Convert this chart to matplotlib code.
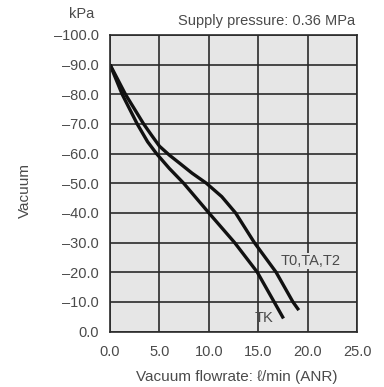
import matplotlib.pyplot as plt

plt.rcParams['font.family'] = ['Liberation Sans', 'DejaVu Sans']

# vacuum flow rate (l/min) and vacuum (kPa)
t0_flow = [0.0, 1.56, 3.4, 4.2, 5.0, 6.0, 7.1, 8.3, 9.75, 11.3, 12.7, 14.6, 16.8, 18.5, 19.1]
t0_vac = [-90, -80, -70, -66.2, -62.5, -59.5, -56.6, -53.4, -50, -45.5, -40, -30, -20, -10, -7.2]

tk_flow = [0.0, 1.23, 2.75, 3.8, 4.7, 6.0, 7.45, 10.0, 12.6, 14.9, 16.6, 17.55]
tk_vac = [-90, -80, -70, -64, -60, -55, -50, -40, -30, -20, -10, -4.4]

x_ticks = [0, 5, 10, 15, 20, 25]
x_labels = ['0.0', '5.0', '10.0', '15.0', '20.0', '25.0']
y_ticks = [0, -10, -20, -30, -40, -50, -60, -70, -80, -90, -100]
y_labels = ['0.0'] + ['\u2013%d.0' % v for v in range(10, 101, 10)]

txt = '#4a4a4a'

fig = plt.figure(figsize=(3.84, 3.87), dpi=100)
ax = fig.add_axes([0.2865, 0.1434, 0.6435, 0.7662])
ax.set_facecolor('#e6e6e6')

ax.plot(t0_flow, t0_vac, color='#111111', lw=2.4, solid_joinstyle='round', solid_capstyle='butt')
ax.plot(tk_flow, tk_vac, color='#111111', lw=2.4, solid_joinstyle='round', solid_capstyle='butt')

ax.set_xlim(0, 25)
ax.set_ylim(0, -100)
ax.set_xticks(x_ticks)
ax.set_xticklabels(x_labels)
ax.set_yticks(y_ticks)
ax.set_yticklabels(y_labels)
ax.tick_params(length=0, labelsize=10.5, labelcolor=txt)
ax.tick_params(axis='x', pad=10)
ax.tick_params(axis='y', pad=8)
ax.grid(True, color='#2a2a2a', lw=1.2)
ax.set_axisbelow(True)
for s in ax.spines.values():
    s.set_color('#2a2a2a')
    s.set_linewidth(1.2)

ax.text(20.25, -23.7, 'T0,TA,T2', fontsize=10.5, color=txt, ha='center', va='center',
        bbox=dict(facecolor='#e6e6e6', edgecolor='none', pad=0.5))
ax.text(15.6, -4.5, 'TK', fontsize=10.5, color=txt, ha='center', va='center')

fig.text(82 / 384, 1 - 14 / 387, 'kPa', fontsize=10.5, color=txt, ha='center', va='center')
fig.text(355 / 384, 1 - 21 / 387, 'Supply pressure: 0.36 MPa', fontsize=10.5, color=txt,
         ha='right', va='center')
fig.text(25 / 384, 1 - 191 / 387, 'Vacuum', fontsize=11, color=txt, rotation=90,
         ha='center', va='center')
fig.text(237 / 384, 1 - 377 / 387, 'Vacuum flowrate: \u2113/min (ANR)', fontsize=11, color=txt,
         ha='center', va='center')

fig.savefig('out.png', dpi=100, facecolor='white')
